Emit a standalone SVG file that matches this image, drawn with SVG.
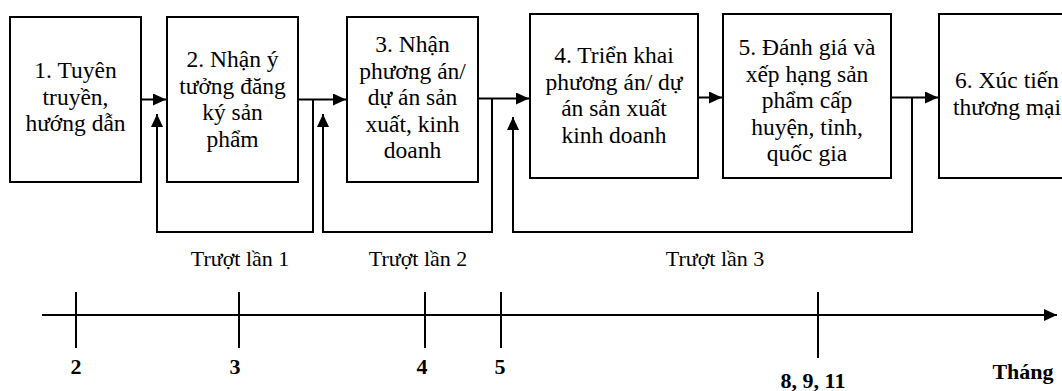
<svg xmlns="http://www.w3.org/2000/svg" width="1062" height="391" viewBox="0 0 1062 391">
<style>
.box{fill:#fff;stroke:#000;stroke-width:2}
.t{font-family:"Liberation Serif","Times New Roman",serif;font-size:23.5px;fill:#000;text-anchor:middle}
.l{font-family:"Liberation Serif","Times New Roman",serif;font-size:22px;fill:#000;text-anchor:middle}
.b{font-family:"Liberation Serif","Times New Roman",serif;font-size:22px;font-weight:bold;fill:#000;text-anchor:middle}
.ln{fill:none;stroke:#000;stroke-width:2}
</style>
<defs>
<marker id="ah" markerUnits="userSpaceOnUse" markerWidth="14" markerHeight="12" refX="13" refY="6" orient="auto">
<path d="M0,0 L13,6 L0,12 z" fill="#000"/>
</marker>
</defs>
<rect width="1062" height="391" fill="#fff"/>
<g id="connectors">
<path class="ln" d="M141,99.5 H166" marker-end="url(#ah)"/>
<path class="ln" d="M298,99.5 H346" marker-end="url(#ah)"/>
<path class="ln" d="M313,99.5 V232 H157 V114" marker-end="url(#ah)"/>
<path class="ln" d="M478,98.5 H529" marker-end="url(#ah)"/>
<path class="ln" d="M492,98.5 V232 H323 V114" marker-end="url(#ah)"/>
<path class="ln" d="M698,97.5 H722" marker-end="url(#ah)"/>
<path class="ln" d="M891,97.5 H938" marker-end="url(#ah)"/>
<path class="ln" d="M912,97.5 V232 H513 V117" marker-end="url(#ah)"/>
</g>
<g id="n1">
<rect class="box" x="10" y="17" width="131" height="165"/>
<text class="t" x="75.5" y="78">1. Tuyên</text>
<text class="t" x="75.5" y="104.5">truyền,</text>
<text class="t" x="75.5" y="131">hướng dẫn</text>
</g>
<g id="n2">
<rect class="box" x="167" y="17" width="131" height="165"/>
<text class="t" x="232.5" y="67">2. Nhận ý</text>
<text class="t" x="232.5" y="93.5">tưởng đăng</text>
<text class="t" x="232.5" y="120">ký sản</text>
<text class="t" x="232.5" y="146.5">phẩm</text>
</g>
<g id="n3">
<rect class="box" x="347" y="17" width="131" height="165"/>
<text class="t" x="412.5" y="52">3. Nhận</text>
<text class="t" x="412.5" y="78.5">phương án/</text>
<text class="t" x="412.5" y="105">dự án sản</text>
<text class="t" x="412.5" y="131.5">xuất, kinh</text>
<text class="t" x="412.5" y="158">doanh</text>
</g>
<g id="n4">
<rect class="box" x="530" y="14" width="168" height="164"/>
<text class="t" x="614" y="63">4. Triển khai</text>
<text class="t" x="614" y="89.5">phương án/ dự</text>
<text class="t" x="614" y="116">án sản xuất</text>
<text class="t" x="614" y="142.5">kinh doanh</text>
</g>
<g id="n5">
<rect class="box" x="723" y="14" width="168" height="164"/>
<text class="t" x="807" y="55">5. Đánh giá và</text>
<text class="t" x="807" y="81.5">xếp hạng sản</text>
<text class="t" x="807" y="108">phẩm cấp</text>
<text class="t" x="807" y="134.5">huyện, tỉnh,</text>
<text class="t" x="807" y="161">quốc gia</text>
</g>
<g id="n6">
<rect class="box" x="939" y="14" width="168" height="164"/>
<text class="t" x="1007" y="88">6. Xúc tiến</text>
<text class="t" x="1007" y="114.5">thương mại</text>
</g>
<g id="labels">
<text class="l" x="240" y="266">Trượt lần 1</text>
<text class="l" x="418" y="266">Trượt lần 2</text>
<text class="l" x="715" y="266">Trượt lần 3</text>
</g>
<g id="timeline">
<path class="ln" d="M42,315 H1057" marker-end="url(#ah)"/>
<path class="ln" d="M76,292 V348 M239,292 V348 M425,292 V348 M501,292 V348 M818,292 V358"/>
<text class="b" x="76" y="374">2</text>
<text class="b" x="235" y="374">3</text>
<text class="b" x="422" y="374">4</text>
<text class="b" x="500" y="374">5</text>
<text class="b" x="813" y="388">8, 9, 11</text>
<text class="b" x="1023" y="379">Tháng</text>
</g>
</svg>
